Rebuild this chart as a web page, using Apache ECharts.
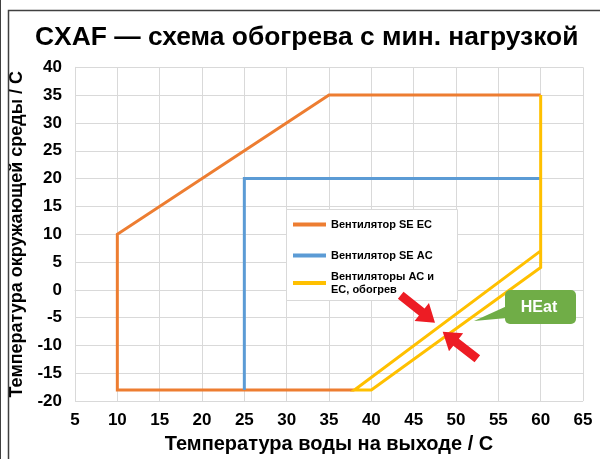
<!DOCTYPE html>
<html>
<head>
<meta charset="utf-8">
<script src="https://cdn.jsdelivr.net/npm/echarts@6/dist/echarts.min.js"></script>
<style>html,body{margin:0;padding:0;background:#fff}#c{width:600px;height:459px}</style>
</head>
<body>
<div id="c"></div>
<script>
// ---- data ----
const titleText = 'CXAF — схема обогрева с мин. нагрузкой';
const xAxisName = 'Температура воды на выходе / C';
const yAxisName = 'Температура окружающей среды / C';
const seriesNames = ['Вентилятор SE EC', 'Вентилятор SE AC', 'Вентиляторы AC и\nEC, обогрев'];
const fanSEEC = [[38, -18], [10, -18], [10, 10], [35, 35], [60, 35]];
const fanSEAC = [[25, -18], [25, 20], [60, 20]];
const fansHeat = [[60, 35], [60, 4], [40, -18], [38, -18], [60, 7]];
const xMin = 5, xMax = 65, xStep = 5;
const yMin = -20, yMax = 40, yStep = 5;
const calloutText = 'HEat';

const colors = ['#ed7d31', '#5b9bd5', '#ffc000'];
const FONT = '"Liberation Sans", Arial, sans-serif';

function arrow(tipX, tipY, dx, dy, len, shaftW, headW, headL) {
  const L = Math.hypot(dx, dy); const ux = dx / L, uy = dy / L; const px = -uy, py = ux;
  const bx = tipX - ux * headL, by = tipY - uy * headL;
  const tx = tipX - ux * len, ty = tipY - uy * len;
  return [
    [tx + px * shaftW / 2, ty + py * shaftW / 2],
    [bx + px * shaftW / 2, by + py * shaftW / 2],
    [bx + px * headW / 2, by + py * headW / 2],
    [tipX, tipY],
    [bx - px * headW / 2, by - py * headW / 2],
    [bx - px * shaftW / 2, by - py * shaftW / 2],
    [tx - px * shaftW / 2, ty - py * shaftW / 2]
  ];
}

const chart = echarts.init(document.getElementById('c'), null, {renderer: 'canvas'});
const lineSeries = (name, data, i) => ({
  name, type: 'line', data, showSymbol: false, symbol: 'none',
  lineStyle: {color: colors[i], width: 3, join: 'miter'}, itemStyle: {color: colors[i]},
  animation: false, z: 2 + i
});
const legendText = {fontFamily: FONT, fontSize: 11, fontWeight: 'bold', color: '#000', lineHeight: 13};

chart.setOption({
  animation: false,
  title: {text: titleText, left: 35, top: 25, padding: 0,
    textStyle: {fontFamily: FONT, fontSize: 26.4, fontWeight: 'bold', color: '#000'}},
  grid: {left: 75, right: 17, top: 67.3, bottom: 57.3, containLabel: false},
  xAxis: {type: 'value', min: xMin, max: xMax, interval: xStep,
    name: xAxisName, nameLocation: 'middle', nameGap: 31,
    nameTextStyle: {fontFamily: FONT, fontSize: 20, fontWeight: 'bold', color: '#000'},
    axisLine: {show: true, lineStyle: {color: '#d9d9d9', width: 1}}, axisTick: {show: false},
    axisLabel: {fontFamily: FONT, fontSize: 17, fontWeight: 'bold', color: '#000', margin: 11},
    splitLine: {show: true, lineStyle: {color: '#d9d9d9', width: 1}}},
  yAxis: {type: 'value', min: yMin, max: yMax, interval: yStep,
    name: yAxisName, nameLocation: 'middle', nameGap: 44,
    nameTextStyle: {fontFamily: FONT, fontSize: 18, fontWeight: 'bold', color: '#000'},
    axisLine: {show: true, lineStyle: {color: '#d9d9d9', width: 1}}, axisTick: {show: false},
    axisLabel: {fontFamily: FONT, fontSize: 17, fontWeight: 'bold', color: '#000', margin: 13},
    splitLine: {show: true, lineStyle: {color: '#d9d9d9', width: 1}}},
  legend: [
    {data: [seriesNames[0], seriesNames[1]], orient: 'vertical', left: 293, top: 218, padding: 0,
     itemGap: 18, itemWidth: 33, itemHeight: 4, icon: 'rect', textStyle: legendText, z: 6},
    {data: [seriesNames[2]], orient: 'vertical', left: 293, top: 270, padding: 0,
     itemWidth: 33, itemHeight: 4, icon: 'rect', textStyle: legendText, z: 6}
  ],
  series: [
    lineSeries(seriesNames[0], fanSEEC, 0),
    lineSeries(seriesNames[1], fanSEAC, 1),
    lineSeries(seriesNames[2], fansHeat, 2)
  ],
  graphic: [
    {type: 'rect', shape: {x: 8.5, y: 10.5, width: 700, height: 600}, style: {fill: 'none', stroke: '#404040', lineWidth: 1.5}, z: 10, silent: true},
    {type: 'line', shape: {x1: 0.5, y1: 0, x2: 0.5, y2: 459}, style: {stroke: '#404040', lineWidth: 1}, z: 10, silent: true},
    {type: 'rect', shape: {x: 286.5, y: 209.5, width: 171, height: 91}, style: {fill: '#fff', stroke: '#d9d9d9', lineWidth: 1}, z: 5, silent: true},
    {type: 'polygon', shape: {points: arrow(435, 322.7, 32, 25.7, 44, 9, 23, 17)}, style: {fill: '#ed1c24'}, z: 7, silent: true},
    {type: 'polygon', shape: {points: arrow(442.7, 331.7, -32.3, -25.3, 44, 9, 23, 17)}, style: {fill: '#ed1c24'}, z: 7, silent: true},
    {type: 'polygon', shape: {points: [[507, 306], [474, 321], [507, 318]]}, style: {fill: '#70ad47'}, z: 7, silent: true},
    {type: 'rect', shape: {x: 505, y: 290, width: 71, height: 34, r: 5}, style: {fill: '#70ad47'}, z: 7, silent: true},
    {type: 'text', x: 539, y: 308, style: {text: calloutText, fill: '#fff', font: 'bold 16px ' + FONT, align: 'center', verticalAlign: 'middle'}, z: 8, silent: true}
  ]
});
</script>
</body>
</html>
